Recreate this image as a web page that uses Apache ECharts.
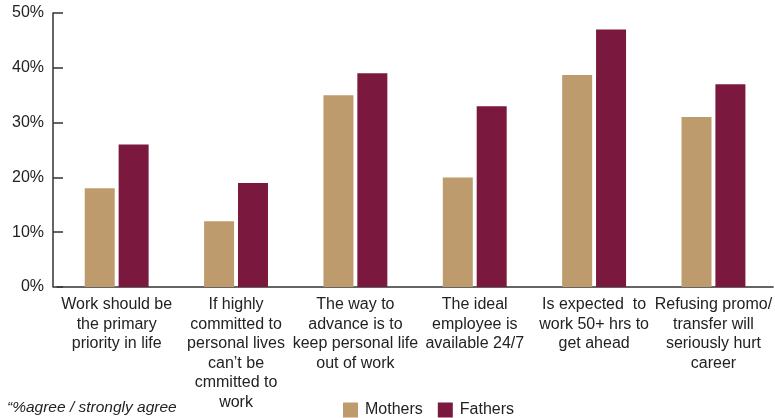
<!DOCTYPE html>
<html>
<head>
<meta charset="utf-8">
<script src="https://cdn.jsdelivr.net/npm/echarts@6/dist/echarts.min.js"></script>
<style>
  html, body { margin: 0; padding: 0; background: #fff; }
  #chart { width: 775px; height: 418px; }
</style>
</head>
<body>
<div id="chart"></div>
<script>
var categories = [
  "Work should be\nthe primary\npriority in life",
  "If highly\ncommitted to\npersonal lives\ncan\u2019t be\ncmmitted to\nwork",
  "The way to\nadvance is to\nkeep personal life\nout of work",
  "The ideal\nemployee is\navailable 24/7",
  "Is expected  to\nwork 50+ hrs to\nget ahead",
  "Refusing promo/\ntransfer will\nseriously hurt\ncareer"
];
var mothers = [18, 12, 35, 20, 38.7, 31];
var fathers = [26, 19, 39, 33, 47, 37];
var yTicks = [0, 10, 20, 30, 40, 50];

var font = "Liberation Sans, Arial, Helvetica, sans-serif";
var chart = echarts.init(document.getElementById("chart"));

var option = {
  animation: false,
  textStyle: { fontFamily: font },
  grid: { left: 57, right: 0, top: 13, bottom: 131 },
  legend: {
    left: 343,
    top: 402,
    padding: 0,
    itemWidth: 15,
    itemHeight: 15,
    itemGap: 15,
    icon: "rect",
    textStyle: { fontSize: 16, color: "#222", fontFamily: font, padding: [0, 0, 0, 2] },
    data: ["Mothers", "Fathers"]
  },
  xAxis: {
    type: "category",
    data: categories,
    axisLine: { lineStyle: { color: "#333", width: 1.5 } },
    axisTick: { show: false },
    axisLabel: {
      interval: 0,
      margin: 8,
      fontSize: 16,
      lineHeight: 19.5,
      color: "#222",
      fontFamily: font
    }
  },
  yAxis: {
    type: "value",
    min: yTicks[0],
    max: yTicks[yTicks.length - 1],
    interval: 10,
    offset: 4,
    splitLine: { show: false },
    axisLine: { show: true, lineStyle: { color: "#333", width: 1.5 } },
    axisTick: { show: true, inside: true, length: 10, lineStyle: { color: "#333", width: 1.5 } },
    axisLabel: {
      margin: 9,
      fontSize: 16,
      color: "#222",
      fontFamily: font,
      formatter: "{value}%"
    }
  },
  series: [
    {
      name: "Mothers",
      type: "bar",
      data: mothers,
      barWidth: 30,
      barGap: "13%",
      itemStyle: { color: "#be9b6c" }
    },
    {
      name: "Fathers",
      type: "bar",
      data: fathers,
      barWidth: 30,
      itemStyle: { color: "#7b183e" }
    }
  ],
  graphic: [
    {
      type: "text",
      left: 7,
      top: 400,
      style: {
        text: "\u201c%agree / strongly agree",
        font: "italic 15.5px " + font,
        fill: "#222"
      }
    }
  ]
};

chart.setOption(option);
</script>
</body>
</html>
